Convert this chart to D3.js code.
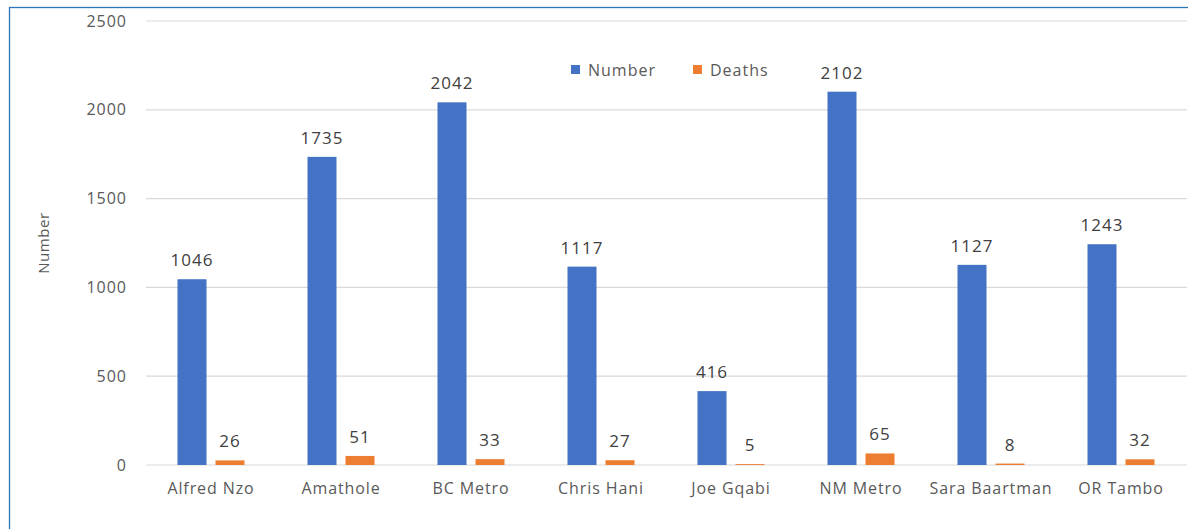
<!DOCTYPE html>
<html><head><meta charset="utf-8">
<script src="https://cdn.jsdelivr.net/npm/d3@7"></script>
<style>body{margin:0;background:#fff;} svg{display:block;}</style>
</head><body>
<svg id="c" width="1188" height="529"></svg>
<script>
const categories = ["Alfred Nzo","Amathole","BC Metro","Chris Hani","Joe Gqabi","NM Metro","Sara Baartman","OR Tambo"];
const numberValues = [1046,1735,2042,1117,416,2102,1127,1243];
const deathValues = [26,51,33,27,5,65,8,32];
const yTicks = [0,500,1000,1500,2000,2500];
const seriesNames = ["Number","Deaths"];
const colors = ["#4472C4","#ED7D31"];

const svg = d3.select("#c");
const font = "'Open Sans', 'Liberation Sans', sans-serif";
// border
svg.append("rect").attr("x",9.5).attr("y",7.5).attr("width",1200).attr("height",540)
  .attr("fill","none").attr("stroke","#2E75B6").attr("stroke-width",1.3);

const x0 = d3.scaleBand().domain(categories).range([146,1186]).paddingInner(0).paddingOuter(0);
const y = d3.scaleLinear().domain([0,2500]).range([465,21]);

// gridlines
svg.append("g").selectAll("line").data(yTicks).join("line")
  .attr("x1",146).attr("x2",1187).attr("y1",d=>y(d)).attr("y2",d=>y(d))
  .attr("stroke","#D9D9D9").attr("stroke-width",1.2);

const yAxis = d3.axisLeft(y).tickValues(yTicks).tickFormat(d3.format("d")).tickSize(0).tickPadding(19);
const ya = svg.append("g").attr("transform","translate(146,0)").call(yAxis);
ya.select(".domain").remove();
ya.selectAll("text").attr("font-family",font).attr("font-size",16).attr("letter-spacing","1px").attr("fill","#595959");

const xAxis = d3.axisBottom(x0).tickSize(0).tickPadding(18);
const xa = svg.append("g").attr("transform","translate(0,465)").call(xAxis);
xa.select(".domain").remove();
xa.selectAll("text").attr("font-family",font).attr("font-size",16).attr("letter-spacing","0.9px").attr("fill","#595959");

const bw = 29, gap = 9;
const x1 = d3.scaleOrdinal().domain(seriesNames).range([-(bw+gap/2), gap/2]);
const data = categories.map((c,i)=>({c, vals:[numberValues[i], deathValues[i]]}));

const g = svg.append("g");
data.forEach(d=>{
  const cx = x0(d.c) + x0.bandwidth()/2;
  d.vals.forEach((v,j)=>{
    const xx = cx + x1(seriesNames[j]);
    g.append("rect").attr("x",xx).attr("y",y(v)).attr("width",bw).attr("height",y(0)-y(v)).attr("fill",colors[j]);
    g.append("text").attr("x",xx+bw/2).attr("y",y(v)-13).attr("text-anchor","middle")
      .attr("font-family",font).attr("font-size",17).attr("fill","#404040").attr("letter-spacing","1px").text(v);
  });
});

// legend
const leg = svg.append("g");
const legX = [571,693];
seriesNames.forEach((s,i)=>{
  leg.append("rect").attr("x",legX[i]).attr("y",65).attr("width",9).attr("height",9).attr("fill",colors[i]);
  leg.append("text").attr("x",legX[i]+17).attr("y",75.5).attr("font-family",font).attr("font-size",16).attr("letter-spacing","1px").attr("fill","#595959").text(s);
});

// y title
svg.append("text").attr("transform","translate(49,243) rotate(-90)").attr("text-anchor","middle")
  .attr("font-family",font).attr("font-size",15).attr("letter-spacing","0.6px").attr("fill","#595959").text("Number");
</script>
</body></html>
